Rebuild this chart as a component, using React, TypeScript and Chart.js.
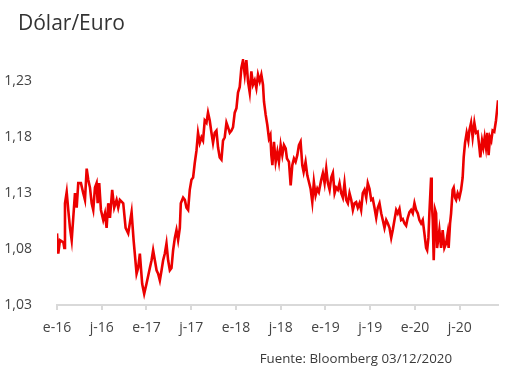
import React, { useEffect, useRef } from "react";
import { Chart, registerables } from "chart.js";

Chart.register(...registerables);

const TITLE = "Dólar/Euro";
const SOURCE = "Fuente: Bloomberg 03/12/2020";

// x = months since 1 Jan 2016
const months = [
  0, 0.17, 0.4, 0.85, 0.98, 1.07, 1.3, 1.51, 1.74, 1.97, 2.18, 2.41, 2.64, 2.85, 3.21, 3.52, 3.75, 3.98, 4.19, 4.42,
  4.65, 4.86, 5.09, 5.31, 5.45, 5.66, 5.89, 6.2, 6.43, 6.65, 6.87, 7.1, 7.4, 7.67, 7.99, 8.21, 8.43, 8.88, 9.2, 9.55,
  10.0, 10.27, 10.67, 10.88, 11.11, 11.42, 11.69, 12.0, 12.45, 12.68, 12.89, 13.12, 13.35, 13.56, 13.79, 14.02, 14.23,
  14.46, 14.68, 14.9, 15.13, 15.35, 15.57, 15.8, 16.02, 16.24, 16.47, 16.6, 16.91, 17.14, 17.36, 17.58, 17.8, 18.03,
  18.25, 18.47, 18.7, 18.91, 19.14, 19.37, 19.58, 19.81, 20.04, 20.25, 20.48, 20.71, 20.92, 21.15, 21.38, 21.59, 21.82,
  22.05, 22.26, 22.49, 22.72, 22.93, 23.16, 23.39, 23.6, 23.83, 24.06, 24.27, 24.5, 24.72, 24.94, 25.17, 25.39, 25.61,
  25.84, 26.06, 26.28, 26.51, 26.73, 26.95, 27.18, 27.4, 27.62, 27.75, 27.98, 28.2, 28.42, 28.61, 28.74, 28.88, 29.09,
  29.32, 29.55, 29.76, 29.99, 30.21, 30.43, 30.66, 30.83, 31.1, 31.33, 31.55, 31.77, 31.99, 32.22, 32.44, 32.66, 32.89,
  33.07, 33.33, 33.56, 33.78, 34.0, 34.23, 34.44, 34.67, 34.9, 35.11, 35.43, 35.65, 35.88, 36.1, 36.32, 36.55, 36.77,
  36.99, 37.22, 37.44, 37.66, 37.88, 38.11, 38.33, 38.55, 38.78, 39.0, 39.22, 39.45, 39.67, 39.89, 40.11, 40.33, 40.56,
  40.78, 41.0, 41.23, 41.46, 41.67, 41.9, 42.13, 42.34, 42.57, 42.8, 43.01, 43.24, 43.47, 43.68, 43.91, 44.14, 44.35,
  44.58, 44.81, 45.02, 45.25, 45.48, 45.69, 45.92, 46.14, 46.36, 46.59, 46.81, 47.03, 47.26, 47.48, 47.7, 47.93, 48.15,
  48.37, 48.59, 48.82, 49.04, 49.26, 49.49, 49.63, 49.8, 49.93, 50.16, 50.24, 50.38, 50.51, 50.7, 50.83, 50.96, 51.14,
  51.27, 51.5, 51.71, 51.94, 52.17, 52.38, 52.51, 52.7, 52.84, 53.05, 53.19, 53.37, 53.51, 53.72, 53.95, 54.18, 54.39,
  54.53, 54.71, 54.93, 55.15, 55.29, 55.52, 55.73, 55.96, 56.18, 56.4, 56.63, 56.76, 56.99, 57.16, 57.34, 57.52, 57.7,
  57.87, 58.06, 58.23, 58.41, 58.63, 58.86, 59.0, 59.13,
];

const usdPerEur = [
  1.094, 1.076, 1.088, 1.086, 1.081, 1.121, 1.131, 1.115, 1.099, 1.088, 1.108, 1.13, 1.117, 1.139, 1.139, 1.13, 1.124,
  1.152, 1.142, 1.135, 1.121, 1.115, 1.135, 1.139, 1.121, 1.139, 1.115, 1.106, 1.112, 1.099, 1.121, 1.108, 1.133, 1.117,
  1.124, 1.117, 1.124, 1.121, 1.099, 1.094, 1.113, 1.088, 1.058, 1.063, 1.076, 1.049, 1.04, 1.049, 1.063, 1.07, 1.079,
  1.07, 1.061, 1.058, 1.052, 1.061, 1.07, 1.076, 1.085, 1.07, 1.061, 1.063, 1.079, 1.09, 1.097, 1.088, 1.099, 1.121,
  1.126, 1.124, 1.117, 1.115, 1.133, 1.142, 1.144, 1.157, 1.168, 1.184, 1.175, 1.18, 1.177, 1.195, 1.193, 1.202, 1.195,
  1.184, 1.175, 1.184, 1.186, 1.171, 1.162, 1.16, 1.177, 1.18, 1.193, 1.189, 1.184, 1.186, 1.189, 1.202, 1.206, 1.22,
  1.225, 1.242, 1.249, 1.236, 1.249, 1.23, 1.22, 1.239, 1.227, 1.231, 1.224, 1.236, 1.23, 1.236, 1.227, 1.212, 1.2,
  1.191, 1.179, 1.182, 1.164, 1.155, 1.176, 1.158, 1.167, 1.158, 1.173, 1.164, 1.173, 1.17, 1.161, 1.158, 1.137, 1.155,
  1.161, 1.158, 1.164, 1.173, 1.176, 1.155, 1.149, 1.158, 1.146, 1.14, 1.134, 1.122, 1.14, 1.128, 1.134, 1.131, 1.142,
  1.148, 1.139, 1.152, 1.139, 1.133, 1.144, 1.148, 1.13, 1.135, 1.133, 1.139, 1.13, 1.126, 1.139, 1.124, 1.121, 1.13,
  1.124, 1.115, 1.121, 1.122, 1.117, 1.121, 1.115, 1.13, 1.133, 1.126, 1.139, 1.134, 1.124, 1.125, 1.117, 1.108, 1.117,
  1.121, 1.112, 1.106, 1.099, 1.106, 1.103, 1.099, 1.09, 1.097, 1.106, 1.115, 1.112, 1.116, 1.106, 1.107, 1.103, 1.101,
  1.108, 1.113, 1.115, 1.112, 1.121, 1.115, 1.112, 1.106, 1.103, 1.106, 1.094, 1.081, 1.079, 1.09, 1.112, 1.144, 1.124,
  1.106, 1.07, 1.115, 1.112, 1.081, 1.09, 1.097, 1.081, 1.097, 1.081, 1.085, 1.094, 1.081, 1.103, 1.112, 1.133, 1.135,
  1.126, 1.124, 1.13, 1.126, 1.133, 1.144, 1.162, 1.175, 1.184, 1.177, 1.186, 1.193, 1.18, 1.193, 1.184, 1.185, 1.171,
  1.162, 1.177, 1.171, 1.18, 1.171, 1.184, 1.164, 1.18, 1.177, 1.186, 1.185, 1.195, 1.204, 1.213,
];

const xTickMonths = [0, 6, 12, 18, 24, 30, 36, 42, 48, 54];
const xTickLabels = ["e-16", "j-16", "e-17", "j-17", "e-18", "j-18", "e-19", "j-19", "e-20", "j-20"];
const yTickValues = [1.03, 1.08, 1.13, 1.18, 1.23];

const FONT = '"Open Sans", "Noto Sans", sans-serif';

const textPlugin = {
  id: "extraTexts",
  afterDraw(chart: any) {
    const ctx = chart.ctx;
    ctx.save();
    ctx.fillStyle = "#333333";
    ctx.textBaseline = "alphabetic";
    ctx.textAlign = "left";
    ctx.font = `21px ${FONT}`;
    ctx.fillText(TITLE, 18, 30);
    ctx.fillStyle = "#3a3a3a";
    ctx.font = `13.3px ${FONT}`;
    ctx.textAlign = "right";
    ctx.fillText(SOURCE, 452, 363);
    ctx.restore();
  },
};

export default function App() {
  const ref = useRef<HTMLCanvasElement | null>(null);

  useEffect(() => {
    document.body.style.margin = "0";
    const canvas = ref.current;
    if (!canvas) return;
    const points = months.map((m, i) => ({ x: m, y: usdPerEur[i] }));
    const chart = new Chart(canvas, {
      type: "line",
      data: {
        datasets: [
          {
            data: points,
            borderColor: "#ec0000",
            borderWidth: 2.6,
            pointRadius: 0,
            tension: 0,
            fill: false,
          },
        ],
      },
      options: {
        responsive: false,
        animation: false,
        layout: { padding: { top: 59, right: 23, left: 0, bottom: 0 } },
        plugins: {
          legend: { display: false },
          tooltip: { enabled: false },
          title: { display: false },
        },
        scales: {
          x: {
            type: "linear",
            min: 0,
            max: 59.13,
            afterBuildTicks: (axis: any) => {
              axis.ticks = xTickMonths.map((v) => ({ value: v }));
            },
            afterFit: (s: any) => {
              s.height = 73;
            },
            ticks: {
              autoSkip: false,
              maxRotation: 0,
              padding: 10,
              color: "#444444",
              font: { family: FONT, size: 14 },
              callback: (v: any) => {
                const i = xTickMonths.indexOf(Number(v));
                return i >= 0 ? xTickLabels[i] : "";
              },
            },
            grid: {
              display: true,
              drawOnChartArea: false,
              drawTicks: true,
              tickLength: 5,
              color: "#d9d9d9",
              lineWidth: 2,
            },
            border: { display: true, color: "#d9d9d9", width: 2 },
          },
          y: {
            type: "linear",
            min: 1.03,
            max: 1.25,
            afterBuildTicks: (axis: any) => {
              axis.ticks = yTickValues.map((v) => ({ value: v }));
            },
            afterFit: (s: any) => {
              s.width = 57;
            },
            ticks: {
              padding: 17,
              color: "#444444",
              font: { family: FONT, size: 14 },
              callback: (v: any) => Number(v).toFixed(2).replace(".", ","),
            },
            grid: { display: false },
            border: { display: false },
          },
        },
      },
      plugins: [textPlugin],
    });
    return () => chart.destroy();
  }, []);

  return (
    <div style={{ width: 521, height: 378, position: "relative", background: "#fff" }}>
      <canvas ref={ref} width={521} height={378} style={{ display: "block", width: 521, height: 378 }} />
    </div>
  );
}
